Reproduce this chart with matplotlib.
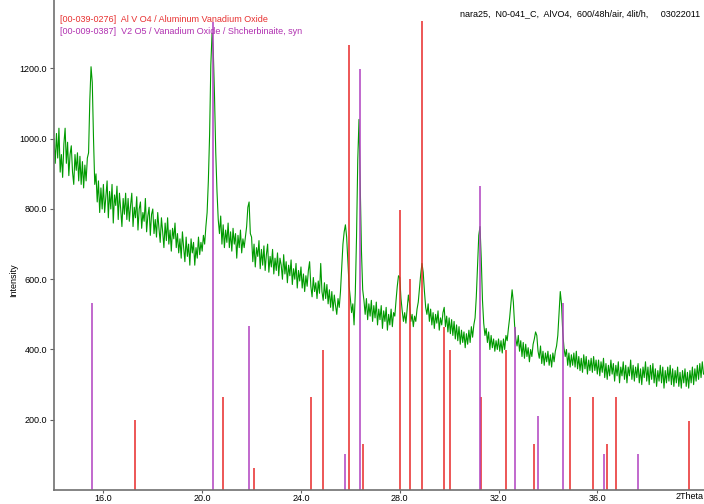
import numpy as np
import matplotlib
matplotlib.use("Agg")
import matplotlib.pyplot as plt

plt.rcParams['font.family'] = ['Liberation Sans', 'DejaVu Sans']

scan_start = 14.0
scan_step = 0.05
counts = [
    1000, 930, 1015, 945, 1030, 905, 955, 890, 985, 1030, 930, 990, 895, 955, 980, 905, 870, 955, 910, 960,
    880, 950, 870, 935, 860, 925, 880, 945, 960, 1110, 1205, 1160, 1000, 870, 900, 820, 880, 790, 860, 800,
    870, 790, 835, 880, 775, 850, 800, 870, 760, 840, 810, 865, 770, 845, 800, 750, 830, 785, 845, 770,
    830, 765, 810, 845, 750, 805, 775, 835, 740, 800, 820, 745, 790, 765, 830, 735, 780, 805, 725, 785,
    800, 730, 770, 720, 790, 745, 705, 775, 735, 690, 760, 710, 775, 700, 740, 680, 745, 715, 760, 690,
    730, 675, 715, 660, 735, 690, 650, 720, 665, 700, 640, 715, 675, 705, 640, 690, 660, 720, 670, 705,
    680, 725, 700, 750, 790, 880, 1010, 1210, 1300, 1250, 1120, 960, 850, 770, 730, 780, 700, 755, 690, 740,
    705, 760, 690, 735, 680, 745, 700, 730, 660, 725, 690, 740, 675, 715, 690, 720, 750, 805, 820, 730,
    720, 650, 700, 635, 690, 665, 710, 630, 685, 640, 695, 625, 670, 700, 620, 665, 635, 685, 615, 660,
    625, 675, 610, 660, 640, 600, 670, 615, 650, 590, 640, 610, 655, 585, 630, 600, 645, 575, 625, 595,
    635, 575, 615, 565, 610, 580, 625, 650, 580, 550, 605, 565, 590, 545, 595, 560, 645, 565, 540, 590,
    545, 585, 530, 570, 520, 565, 510, 555, 525, 500, 545, 520, 565, 630, 700, 735, 755, 720, 650, 580,
    545, 505, 530, 470, 560, 720, 940, 1055, 870, 680, 570, 540, 500, 545, 485, 530, 495, 540, 480, 525,
    490, 535, 470, 515, 485, 525, 460, 510, 480, 520, 455, 500, 470, 515, 465, 505, 495, 540, 580, 610,
    605, 545, 510, 480, 505, 475, 515, 555, 530, 480, 500, 465, 495, 480, 515, 535, 575, 615, 645, 620,
    565, 520, 500, 530, 480, 515, 470, 505, 460, 500, 475, 510, 455, 490, 470, 505, 520, 465, 495, 450,
    490, 445, 485, 440, 480, 430, 470, 425, 465, 415, 455, 420, 450, 405, 445, 415, 455, 420, 465, 435,
    470, 490, 550, 640, 725, 750, 660, 540, 475, 440, 460, 420, 450, 400, 440, 405, 430, 395, 425, 400,
    430, 395, 425, 390, 430, 400, 440, 425, 460, 490, 530, 570, 535, 470, 430, 410, 440, 395, 425, 380,
    420, 375, 415, 380, 405, 365, 400, 380, 415, 430, 450, 440, 395, 375, 410, 360, 395, 355, 390, 365,
    395, 355, 385, 350, 390, 365, 395, 410, 440, 505, 565, 530, 450, 405, 380, 400, 355, 390, 350, 385,
    355, 390, 350, 395, 345, 380, 340, 375, 335, 385, 345, 380, 330, 370, 340, 375, 335, 380, 340, 370,
    330, 370, 325, 365, 335, 375, 320, 360, 315, 355, 325, 370, 330, 360, 310, 355, 325, 365, 305, 350,
    325, 365, 315, 355, 305, 350, 325, 370, 315, 355, 310, 350, 320, 360, 305, 345, 300, 350, 320, 365,
    310, 350, 300, 355, 315, 360, 305, 345, 295, 340, 310, 355, 305, 350, 290, 340, 305, 350, 310, 355,
    300, 345, 295, 340, 305, 350, 295, 335, 290, 340, 305, 345, 295, 335, 290, 340, 305, 350, 300, 345,
    310, 355, 315, 360, 320, 365, 330,
]

# [00-039-0276] Al V O4 reference lines
alvo4_pos = [17.28, 20.84, 22.10, 24.40, 24.89, 25.94, 26.51, 28.01, 28.41, 28.90,
             29.79, 30.03, 31.29, 32.30, 33.43, 34.89, 35.82, 36.39, 36.75, 39.71]
alvo4_int = [199, 264, 62, 264, 398, 1267, 131, 798, 600, 1335,
             463, 398, 264, 398, 131, 264, 264, 131, 264, 196]

# [00-009-0387] V2 O5 reference lines
v2o5_pos = [15.54, 20.44, 21.90, 25.78, 26.39, 31.25, 32.66, 33.60, 34.60, 36.27, 37.64]
v2o5_int = [531, 1332, 466, 102, 1199, 866, 463, 210, 531, 102, 102]

two_theta = scan_start + scan_step * np.arange(len(counts))

fig = plt.figure(figsize=(7.04, 5.04), dpi=100)
ax = fig.add_axes([54 / 704, 14 / 504, 650 / 704, 490 / 504])

ax.plot(two_theta, counts, color='#009a00', lw=0.8)
ax.vlines(alvo4_pos, 0, alvo4_int, color='#e82828', lw=1.1)
ax.vlines(v2o5_pos, 0, v2o5_int, color='#b040c0', lw=1.1)

ax.set_xlim(14.0, 40.32)
ax.set_ylim(0, 1395)
ax.set_xticks([16, 20, 24, 28, 32, 36])
ax.set_xticklabels(['16.0', '20.0', '24.0', '28.0', '32.0', '36.0'])
ax.set_yticks([200, 400, 600, 800, 1000, 1200])
ax.set_yticklabels(['200.0', '400.0', '600.0', '800.0', '1000.0', '1200.0'])
ax.tick_params(labelsize=6.5, length=3, width=0.8, color='#606060', pad=2)
ax.tick_params(axis='x', length=2, pad=1)

for s in ['top', 'right']:
    ax.spines[s].set_visible(False)
for s in ['left', 'bottom']:
    ax.spines[s].set_color('#707070')
    ax.spines[s].set_linewidth(1.2)

# y label placed by hand, same spot as the original software puts it
fig.text(14 / 704, 1 - 280 / 504, 'Intensity', fontsize=6.5, rotation=90,
         ha='center', va='center')
ax.text(1.0, -0.004, '2Theta', transform=ax.transAxes, fontsize=6.5,
        ha='right', va='top')

fig.text(60 / 704, 1 - 20 / 504, '[00-039-0276]  Al V O4 / Aluminum Vanadium Oxide',
         color='#e83030', fontsize=6.5, va='center')
fig.text(60 / 704, 1 - 31 / 504, '[00-009-0387]  V2 O5 / Vanadium Oxide / Shcherbinaite, syn',
         color='#b030b0', fontsize=6.5, va='center')
fig.text(700 / 704, 1 - 14 / 504,
         'nara25,  N0-041_C,  AlVO4,  600/48h/air, 4lit/h,     03022011',
         color='black', fontsize=6.5, ha='right', va='center')

fig.savefig('out.png', dpi=100)
